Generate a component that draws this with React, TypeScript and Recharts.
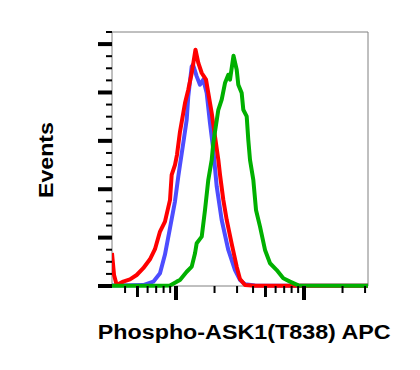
import React from 'react';
import { LineChart, Line, XAxis, YAxis, ReferenceArea } from 'recharts';

// Fluorescence intensity (log axis) and event counts
const blueX = [31.6, 43.7, 55.5, 66.5, 75.0, 82.0, 89.8, 98.2, 104.2, 107.4, 114.0, 121.2, 124.7, 132.7, 135.8, 145.1, 153.9, 163.4, 173.7, 184.3, 195.6, 208, 227.5, 256.2, 289, 316, 346, 414, 930, 3162];
const blueY = [0.5, 0.6, 0.8, 3.6, 10.5, 26, 48, 70, 90.5, 100, 118.2, 137.4, 156.7, 181.6, 183, 173.3, 166.4, 170.6, 159.5, 134.7, 112.6, 82.2, 54.6, 29.8, 13.2, 5, 1.5, 0.5, 0.3, 0.2];

const redX = [31.6, 32.8, 34.4, 38.7, 43.7, 49.3, 55.5, 62.6, 68.5, 75.0, 82.0, 89.8, 92.5, 98.2, 101.8, 107.4, 117.6, 124.7, 132.7, 142.0, 149.4, 158.8, 171.6, 178.8, 190.1, 201.7, 214.1, 220.7, 234.2, 249, 272.4, 298, 316, 346, 414, 930, 3162];
const redY = [27.3, 9.1, 0.8, 3.6, 5.5, 9.1, 14.7, 22.1, 30.4, 45, 53.2, 71.2, 91.9, 100.2, 108.5, 127.5, 151.3, 162.3, 176.1, 195.4, 184.4, 176.1, 170.6, 159.5, 143, 123.6, 104.3, 91.9, 71.2, 54.6, 34.8, 16, 5.8, 0.8, 0.3, 0.3, 0.2];

const greenX = [31.6, 75, 89.8, 101.3, 107.4, 121.2, 132.7, 140.8, 145.1, 158.8, 168.5, 178.8, 190.1, 195.6, 214.1, 227.5, 241.4, 256.2, 264.2, 281.3, 298, 306.7, 326, 335.6, 356.7, 367.1, 378.6, 401.8, 421.7, 453.3, 495.9, 542.6, 612, 689, 777.4, 902.8, 3162];
const greenY = [0.3, 0.3, 0.5, 3.6, 5, 11.8, 16, 27.1, 35.4, 40.8, 62.9, 87.8, 104.3, 118.2, 145.7, 154, 167.8, 174.7, 170.6, 190.4, 178.8, 166.4, 159.5, 145.7, 140.2, 120.9, 104.3, 87.8, 62.9, 49.1, 29.8, 18.8, 13.2, 6.4, 3.6, 0.5, 0.3];

const xTicks = [40, 50, 60, 70, 80, 90, 100, 200, 300, 400, 500, 600, 700, 800, 900, 1000, 2000, 3000];
const xMajor = [100, 1000];
const xMedium = [50, 500];
const yTicks = [0, 10, 20, 30, 40, 50, 60, 70, 80, 90, 100, 110, 120, 130, 140, 150, 160, 170, 180, 190, 200, 210];
const yMajor = [0, 40, 80, 120, 160, 200];

const xDomain = [31.62, 3162.3];
const yDomain = [0, 210];

const toPoints = (xs: number[], ys: number[]) => xs.map((x, i) => ({ x, y: ys[i] }));
const blueData = toPoints(blueX, blueY);
const redData = toPoints(redX, redY);
const greenData = toPoints(greenX, greenY);

const YTick = (props: any) => {
  const { x, y, payload } = props;
  const major = yMajor.includes(payload.value);
  const len = major ? 14 : 6;
  return <line x1={x - len} y1={y} x2={x} y2={y} stroke="#000" strokeWidth={major ? 4 : 2} />;
};

const XTick = (props: any) => {
  const { x, y, payload } = props;
  const major = xMajor.includes(payload.value);
  const medium = xMedium.includes(payload.value);
  const len = major ? 14 : medium ? 11 : 7;
  const w = major ? 4 : medium ? 3 : 2;
  return <line x1={x} y1={y} x2={x} y2={y + len} stroke="#000" strokeWidth={w} />;
};

const font = "'Liberation Sans', Arial, Helvetica, sans-serif";

export default function App() {
  return (
    <div style={{ position: 'absolute', left: 0, top: 0, width: 420, height: 370, background: '#fff' }}>
      <LineChart width={420} height={370} margin={{ top: 32, right: 52, bottom: 64, left: 92 }}>
        <XAxis
          dataKey="x"
          type="number"
          scale="log"
          domain={xDomain}
          allowDataOverflow
          ticks={xTicks}
          interval={0}
          tick={<XTick />}
          tickLine={false}
          tickSize={0}
          tickMargin={0}
          axisLine={false}
          height={20}
        />
        <YAxis
          type="number"
          domain={yDomain}
          ticks={yTicks}
          interval={0}
          tick={<YTick />}
          tickLine={false}
          tickSize={0}
          tickMargin={0}
          axisLine={false}
          width={20}
        />
        <ReferenceArea x1={xDomain[0]} x2={xDomain[1]} y1={yDomain[0]} y2={yDomain[1]} fill="none" stroke="#808080" strokeWidth={1} ifOverflow="visible" />
        <Line data={blueData} dataKey="y" type="linear" stroke="#4d4dff" strokeWidth={4} dot={false} isAnimationActive={false} strokeLinejoin="round" />
        <Line data={redData} dataKey="y" type="linear" stroke="#ff0000" strokeWidth={4} dot={false} isAnimationActive={false} strokeLinejoin="round" />
        <Line data={greenData} dataKey="y" type="linear" stroke="#00b000" strokeWidth={4} dot={false} isAnimationActive={false} strokeLinejoin="round" />
      </LineChart>
      <svg width={420} height={370} style={{ position: 'absolute', left: 0, top: 0, pointerEvents: 'none' }}>
        <text x={52.7} y={160} transform="rotate(-90, 52.7, 160)" textAnchor="middle" fontFamily={font} fontWeight="bold" fontSize={20} textLength={76} lengthAdjust="spacingAndGlyphs" fill="#000">Events</text>
        <text x={244.2} y={339} textAnchor="middle" fontFamily={font} fontWeight="bold" fontSize={20} textLength={293} lengthAdjust="spacingAndGlyphs" fill="#000">Phospho-ASK1(T838) APC</text>
      </svg>
    </div>
  );
}
